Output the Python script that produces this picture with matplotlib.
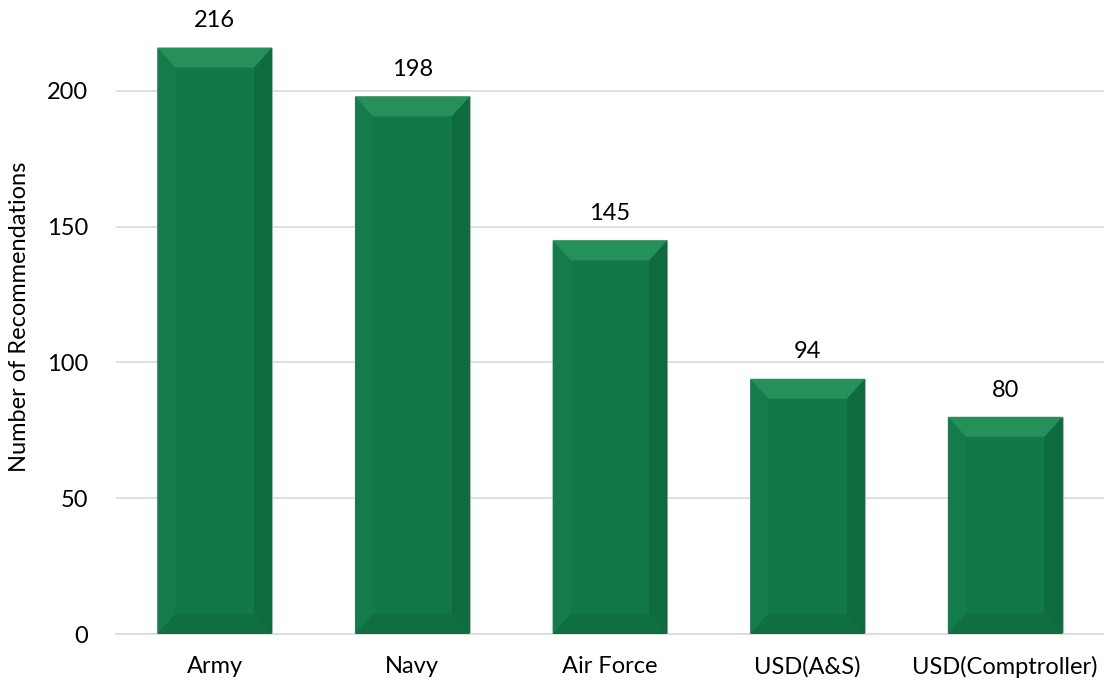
import numpy as np
import matplotlib.pyplot as plt
from matplotlib.patches import Polygon

categories = ['Army', 'Navy', 'Air Force', 'USD(A&S)', 'USD(Comptroller)']
values = [216, 198, 145, 94, 80]

plt.rcParams['font.family'] = ['Lato', 'DejaVu Sans']

fig = plt.figure(figsize=(11.04, 6.83), dpi=100)
ax = fig.add_axes([0.105, 0.0717, 0.895, 0.9283])

x = np.arange(len(categories))
width = 0.58
bars = ax.bar(x, values, width=width, color='#12784a', edgecolor='#b5b5b5',
              linewidth=0.8, zorder=2)

ax.set_xlim(-0.5, len(categories) - 0.5)
ax.set_ylim(0, 233.5)

# bevel sizes in data units
fig.canvas.draw()
p0 = ax.transData.transform((0, 0))
p1 = ax.transData.transform((1, 1))
dx = 18 / (p1[0] - p0[0])
dy = 20 / (p1[1] - p0[1])

for b in bars:
    x0 = b.get_x()
    x1 = x0 + b.get_width()
    h = b.get_height()
    top = [(x0, h), (x1, h), (x1 - dx, h - dy), (x0 + dx, h - dy)]
    right = [(x1, h), (x1, 0), (x1 - dx, dy), (x1 - dx, h - dy)]
    left = [(x0, h), (x0 + dx, h - dy), (x0 + dx, dy), (x0, 0)]
    bottom = [(x0, 0), (x1, 0), (x1 - dx, dy), (x0 + dx, dy)]
    ax.add_patch(Polygon(left, closed=True, color='#147c4c', lw=0, zorder=3))
    ax.add_patch(Polygon(right, closed=True, color='#0e6a3f', lw=0, zorder=3))
    ax.add_patch(Polygon(bottom, closed=True, color='#0f6e42', lw=0, zorder=3))
    ax.add_patch(Polygon(top, closed=True, color='#25905a', lw=0, zorder=3))
    ax.text(b.get_x() + b.get_width() / 2, h + 6, str(int(h)), ha='center', va='bottom',
            fontsize=17, color='#000000')

ax.set_yticks([0, 50, 100, 150, 200])
ax.grid(axis='y', color='#d9d9d9', lw=1.2, zorder=0)
ax.set_axisbelow(True)
ax.set_xticks(x)
ax.set_xticklabels(categories)
ax.tick_params(axis='both', length=0, labelsize=17, colors='#000000')
ax.tick_params(axis='x', pad=16)
ax.tick_params(axis='y', pad=20)
for s in ['top', 'right', 'left']:
    ax.spines[s].set_visible(False)
ax.spines['bottom'].set_color('#d9d9d9')
ax.spines['bottom'].set_linewidth(1.2)
ax.set_ylabel('Number of Recommendations', fontsize=17, labelpad=12)

fig.savefig('out.png', dpi=100)
